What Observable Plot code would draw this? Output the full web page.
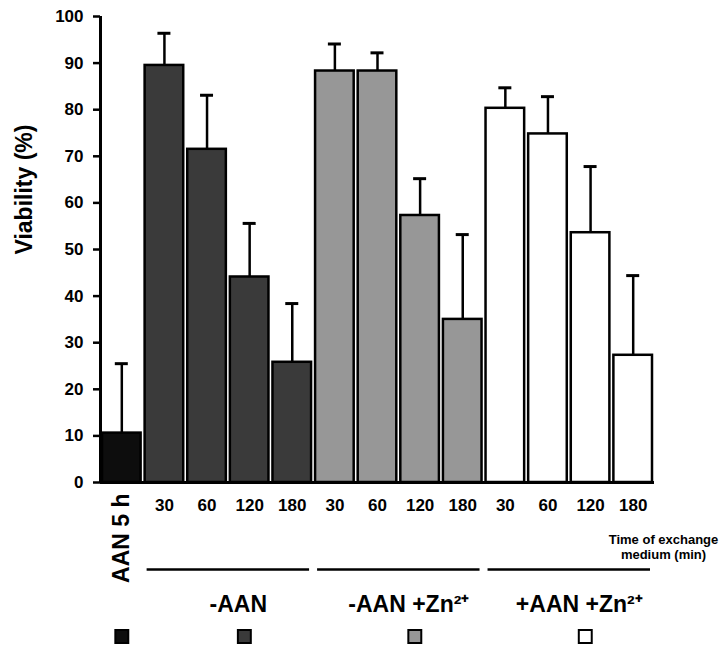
<!DOCTYPE html>
<html>
<head>
<meta charset="utf-8">
<script src="https://cdn.jsdelivr.net/npm/d3@7"></script>
<script src="https://cdn.jsdelivr.net/npm/@observablehq/plot@0.6"></script>
<style>
  html, body { margin: 0; padding: 0; background: #ffffff; }
  #chart svg { display: block; }
</style>
</head>
<body>
<div id="chart"></div>
<script>
// ---- data ----
const categories = ["AAN 5 h", "30", "60", "120", "180", "30", "60", "120", "180", "30", "60", "120", "180"];
const barGroup   = [0, 1, 1, 1, 1, 2, 2, 2, 2, 3, 3, 3, 3];
const viability  = [10.6, 89.5, 71.5, 44.1, 25.8, 88.3, 88.3, 57.3, 35.0, 80.3, 74.8, 53.6, 27.3];
const errorUp    = [14.9, 6.9, 11.6, 11.5, 12.6, 5.8, 3.9, 7.9, 18.2, 4.4, 8.0, 14.2, 17.1];
const groupNames = ["AAN 5 h", "-AAN", "-AAN +Zn²⁺", "+AAN +Zn²⁺"];
const groupColors = ["#0d0d0d", "#3a3a3a", "#979797", "#ffffff"];
const yTicks = [0, 10, 20, 30, 40, 50, 60, 70, 80, 90, 100];
const yLabel = "Viability (%)";
const timeLabel = "Time of exchange\nmedium (min)";

// ---- tables built from the arrays ----
const bars = categories.map((label, i) => ({
  i, label, g: barGroup[i], value: viability[i], err: errorUp[i]
}));
const groups = groupNames.map((name, g) => {
  const idx = bars.filter(d => d.g === g).map(d => d.i);
  return { g, name, start: d3.min(idx), end: d3.max(idx) + 1, color: groupColors[g] };
});
const subGroups = groups.filter(d => d.g > 0);

const font = "'Liberation Sans', Arial, Helvetica, sans-serif";

const chart = Plot.plot({
  width: 722,
  height: 649,
  marginLeft: 100,
  marginRight: 68,
  marginTop: 16,
  marginBottom: 167,
  style: { fontFamily: font, background: "#ffffff", color: "#000" },
  x: { domain: [0, categories.length], axis: null },
  y: { domain: [0, 100], axis: null },
  color: { type: "identity" },
  marks: [
    // bars
    Plot.rectY(bars, {
      x1: d => d.i, x2: d => d.i + 1, y1: d => 0, y2: "value",
      fill: d => groupColors[d.g], stroke: "#000", strokeWidth: 2.5,
      insetLeft: 2, insetRight: 2
    }),
    // error bars (upper only)
    Plot.ruleX(bars, {
      x: d => d.i + 0.5, y1: "value", y2: d => d.value + d.err,
      stroke: "#000", strokeWidth: 2.5
    }),
    Plot.ruleY(bars, {
      x1: d => d.i + 0.5, x2: d => d.i + 0.5, y: d => d.value + d.err,
      insetLeft: -6.5, insetRight: -6.5, stroke: "#000", strokeWidth: 3
    }),
    // y axis
    Plot.axisY({
      ticks: yTicks, tickSize: 7, tickPadding: 10, strokeWidth: 2.5,
      fontSize: 17, fontWeight: "bold", label: null
    }),
    Plot.ruleX([0], { stroke: "#000", strokeWidth: 3 }),
    Plot.ruleY([0], { stroke: "#000", strokeWidth: 3 }),
    // y label
    Plot.text([yLabel], {
      text: d => d, frameAnchor: "left", rotate: -90, dx: -76, dy: 5,
      fontSize: 23, fontWeight: "bold"
    }),
    // x tick labels
    Plot.text(bars.filter(d => d.g > 0), {
      x: d => d.i + 0.5, y: d => 0, text: "label", dy: 16, lineAnchor: "top",
      fontSize: 17, fontWeight: "bold"
    }),
    Plot.text(bars.filter(d => d.g === 0), {
      x: d => d.i + 0.5, y: d => 0, text: "label", rotate: -90, textAnchor: "end",
      dy: 11, fontSize: 23, fontWeight: "bold"
    }),
    // time label
    Plot.text([timeLabel], {
      text: d => d, frameAnchor: "bottom-right", dx: 9, dy: 51,
      lineAnchor: "top", textAnchor: "middle", lineHeight: 1.15,
      fontSize: 13, fontWeight: "bold"
    }),
    // group lines
    Plot.ruleY(subGroups, {
      x1: "start", x2: d => d.end, y: d => 0, dy: 87,
      insetLeft: 4, insetRight: 4, stroke: "#000", strokeWidth: 2.5
    }),
    // group labels
    Plot.text(subGroups, {
      x: d => (d.start + d.end) / 2, y: d => 0, text: "name",
      dx: 10, dy: 113, lineAnchor: "top", fontSize: 23, fontWeight: "bold"
    }),
    // legend squares
    Plot.dot(groups.filter(d => d.g === 0), {
      x: d => (d.start + d.end) / 2, y: d => 0, symbol: "square", r: 7.3,
      fill: "color", stroke: "#000", strokeWidth: 2, dy: 154
    }),
    Plot.dot(subGroups, {
      x: d => (d.start + d.end) / 2, y: d => 0, symbol: "square", r: 7.3,
      fill: "color", stroke: "#000", strokeWidth: 2, dx: 16, dy: 154
    })
  ]
});

document.getElementById("chart").appendChild(chart);
</script>
</body>
</html>
